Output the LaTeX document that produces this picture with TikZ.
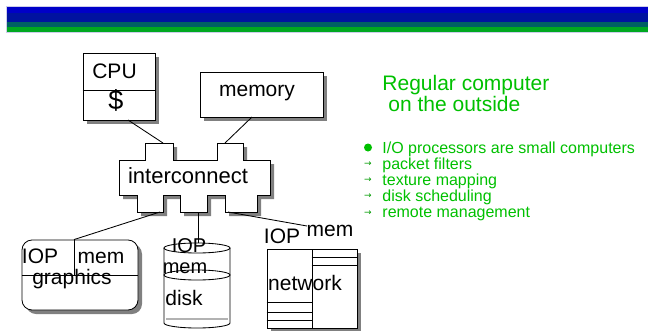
\documentclass[tikz,border=0pt]{standalone}
\usepackage{fontspec}
\setmainfont{Liberation Sans}
\newfontfamily\symfont{DejaVu Sans}
\usepackage{tikz}
\usetikzlibrary{calc}

\definecolor{bandA}{RGB}{0,0,200}
\definecolor{bandB}{RGB}{0,18,160}
\definecolor{bandC}{RGB}{0,96,100}
\definecolor{bandD}{RGB}{0,168,32}
\definecolor{bandedge}{RGB}{205,205,235}
\definecolor{slidegreen}{RGB}{0,192,0}

\tikzset{
	lbl/.style={anchor=base, inner sep=0pt, font=\fontsize{21}{21}\selectfont},
	box/.style={draw, fill=white, inner sep=0pt},
	shadowfill/.style={fill=black!50},
	headline/.style={anchor=base west, inner sep=0pt, text=slidegreen, font=\fontsize{21}{21}\selectfont},
	item/.style={anchor=base west, inner sep=0pt, text=slidegreen, font=\fontsize{16}{16}\selectfont},
	tick/.style={inner sep=0pt, text=slidegreen!80!black, font=\symfont\fontsize{9}{9}\selectfont},
	ic outline/.style={insert path={(119,160) -- (145,160) -- (145,143) -- (173,143) -- (173,160)
		-- (217,160) -- (217,143) -- (243,143) -- (243,160) -- (270,160) -- (270,195)
		-- (257,195) -- (257,212) -- (225,212) -- (225,195) -- (207,195) -- (207,212)
		-- (180,212) -- (180,195) -- (163,195) -- (163,212) -- (137,212) -- (137,195)
		-- (119,195) -- cycle}},
}

\begin{document}
\begin{tikzpicture}[x=1pt,y=-1pt,line width=0.85pt]
	\newcommand\shd{4}
	\useasboundingbox (0,0) rectangle (648,330);
	
	% title bars
	\fill[bandA] (6,6.7) rectangle (648,13);
	\fill[bandB] (6,13) rectangle (648,21.7);
	\fill[bandC] (6,21.7) rectangle (648,27.3);
	\fill[bandD] (6,27.3) rectangle (648,32.3);
	\draw[bandedge, line width=0.6pt] (6,6.5) rectangle (649,32.5);
	
	% cpu and memory
	\fill[shadowfill] (83+\shd,53+\shd) rectangle (155+\shd,120+\shd);
	\node[box, minimum width=72pt, minimum height=67pt] (cpu) at (119,86.5) {};
	\draw (cpu.west |- 0,90) -- (cpu.east |- 0,90);
	\node[lbl] (cpulbl) at (114.5,78) {CPU};
	\node[lbl, font=\fontsize{27}{27}\selectfont] (cache) at (116,109) {\$};
	
	\fill[shadowfill] (200+\shd,72+\shd) rectangle (323+\shd,117+\shd);
	\node[box, minimum width=123pt, minimum height=45pt] (mem) at (261.5,94.5) {};
	\node[lbl] (memlbl) at (257,96) {memory};
	
	% interconnect
	\fill[shadowfill, shift={(\shd,\shd)}, ic outline];
	\draw[fill=white, ic outline];
	\node[lbl, font=\fontsize{22}{22}\selectfont] (ic) at (188,183) {interconnect};
	
	\coordinate (cpu-out) at (128,120);
	\coordinate (ic-t1) at (163,143);
	\coordinate (mem-out) at (252,117);
	\coordinate (ic-t2) at (225,143);
	\draw (cpu-out) -- (ic-t1);
	\draw (mem-out) -- (ic-t2);
	
	% graphics
	\fill[shadowfill, rounded corners=10pt] (22+\shd,240+\shd) rectangle (138+\shd,310+\shd);
	\node[box, rounded corners=10pt, minimum width=116pt, minimum height=70pt] (gfx) at (80,275) {};
	\draw (gfx.west) -- (gfx.east);
	\draw (74,0 |- gfx.north) -- (74,0 |- gfx.center);
	\node[lbl] (gfxiop) at (40,263) {IOP};
	\node[lbl] (gfxmem) at (101,263) {mem};
	\node[lbl] (gfxlbl) at (72,284) {graphics};
	
	% disk
	\draw[fill=white] (164,248) -- (164,323) arc[start angle=180, end angle=360, x radius=33pt, y radius=5pt] -- (230,248);
	\draw[black!30, line width=1.2pt] (166,319) -- (228,319);
	\draw (197,248) ellipse [x radius=33pt, y radius=5pt];
	\draw (197,275) ellipse [x radius=33pt, y radius=5pt];
	\node[lbl, font=\fontsize{20}{20}\selectfont] (dskiop) at (189,252) {IOP};
	\node[lbl, font=\fontsize{20}{20}\selectfont] (dskmem) at (185,273) {mem};
	\node[lbl] (dsklbl) at (184,305) {disk};
	
	% network
	\fill[shadowfill] (267+\shd,249+\shd) rectangle (357+\shd,328+\shd);
	\node[box, minimum width=45pt, minimum height=79pt] (nicl) at (289.5,288.5) {};
	\node[box, minimum width=45pt, minimum height=79pt] (nicr) at (334.5,288.5) {};
	\foreach \yy in {257,265}
		\draw (nicr.west |- 0,\yy) -- (nicr.east |- 0,\yy);
	\foreach \yy in {302,312,320}
		\draw (nicl.west |- 0,\yy) -- (nicl.east |- 0,\yy);
	\node[lbl] (niciop) at (282,243) {IOP};
	\node[lbl] (nicmem) at (330,236) {mem};
	\node[lbl] (niclbl) at (305,290) {network};
	
	\coordinate (ic-b1) at (160,212);
	\coordinate (gfx-in) at (74,0 |- gfx.north);
	\coordinate (ic-b2) at (198,212);
	\coordinate (dsk-in) at (198,243);
	\coordinate (ic-b3) at (228,212);
	\coordinate (nic-in) at (307,226);
	\draw (ic-b1) -- (gfx-in);
	\draw (ic-b2) -- (dsk-in);
	\draw (ic-b3) -- (nic-in);
	
	% text on the right
	\node[headline] (head1) at (382,90) {Regular computer};
	\node[headline] (head2) at (388,111) {on the outside};
	\node[circle, fill=slidegreen, inner sep=0pt, minimum size=8pt] (dot) at (368,147.5) {};
	\node[item] (item0) at (382,153) {I/O processors are small computers};
	\foreach \txt [count=\i] in {packet filters, texture mapping, disk scheduling, remote management} {
		\node[item] (item\i) at (382,{153+16.2*\i}) {\txt};
		\node[tick] (tick\i) at (368,{153+16.2*\i-5}) {→};
	}
\end{tikzpicture}
\end{document}
